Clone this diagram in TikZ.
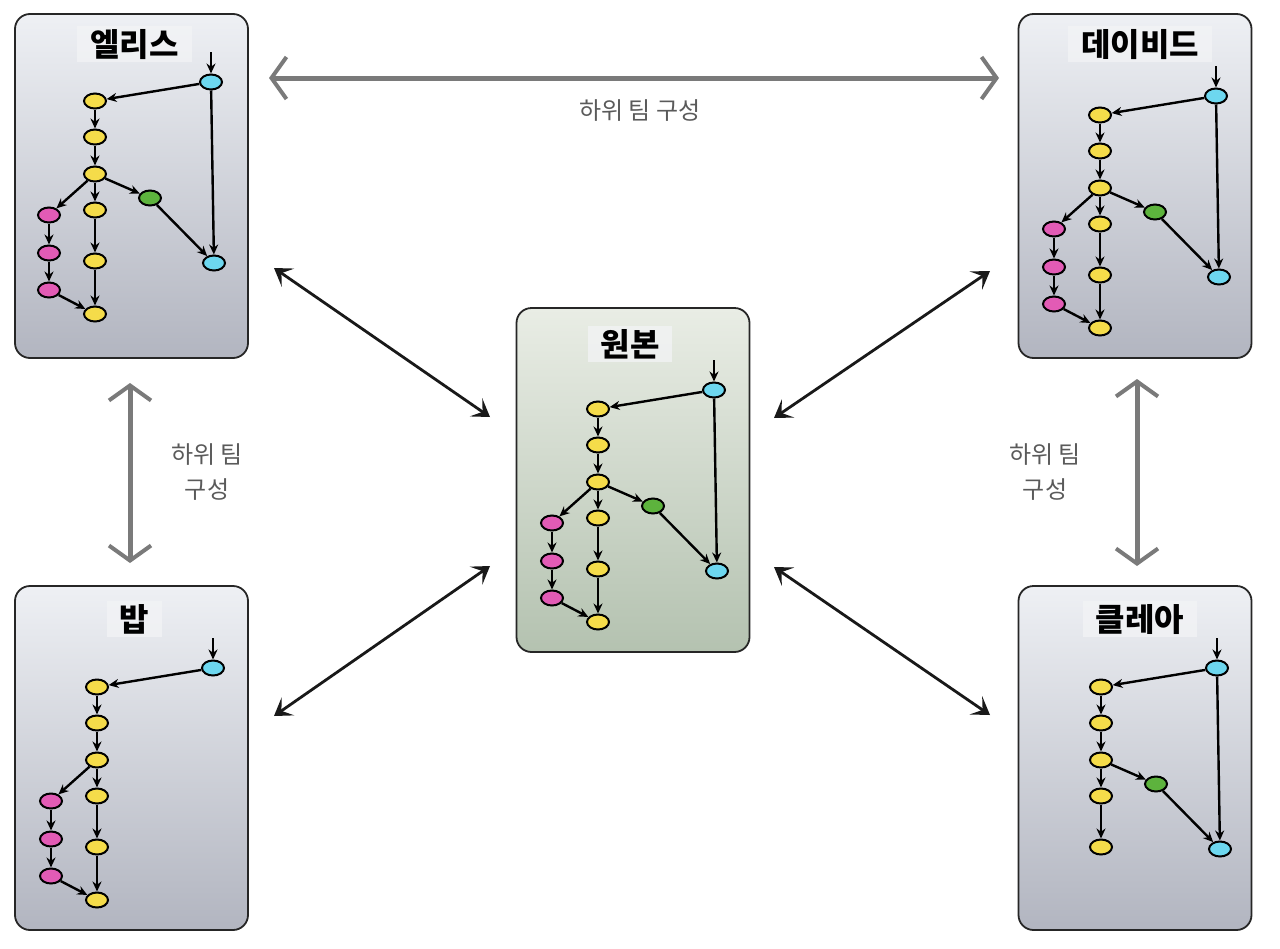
\documentclass[tikz,border=0pt]{standalone}
\usepackage{fontspec}
\setmainfont{Noto Sans CJK KR}
\usetikzlibrary{shapes.geometric, arrows.meta, positioning}

\definecolor{commityellow}{HTML}{F5DC4A}
\definecolor{commitcyan}{HTML}{6DD7EF}
\definecolor{commitpink}{HTML}{E25BB5}
\definecolor{commitgreen}{HTML}{5DB33D}
\definecolor{boxtop}{HTML}{EEF0F4}
\definecolor{boxbottom}{HTML}{B2B5C0}
\definecolor{origintop}{HTML}{E9EDE5}
\definecolor{originbottom}{HTML}{B4C2B0}
\definecolor{teamgray}{HTML}{7A7A7A}
\definecolor{labelgray}{HTML}{5A5A5A}
\definecolor{titleback}{HTML}{F3F4F6}

\tikzset{
  commit/.style={ellipse, draw=black, line width=2pt, minimum width=22pt, minimum height=15pt, inner sep=0pt},
  ycommit/.style={commit, fill=commityellow},
  ccommit/.style={commit, fill=commitcyan},
  pcommit/.style={commit, fill=commitpink},
  gcommit/.style={commit, fill=commitgreen},
  commitedge/.style={-{Stealth[length=10pt,width=9pt]}, line width=2.4pt},
  repobox/.style={rectangle, rounded corners=15pt, draw=black!85, line width=1.8pt, minimum width=233pt, minimum height=344pt, top color=boxtop, bottom color=boxbottom},
  originbox/.style={repobox, top color=origintop, bottom color=originbottom},
  repotitle/.style={fill=titleback, fill opacity=0.75, text opacity=1, font=\bfseries\fontsize{32}{34}\selectfont, inner xsep=13pt, inner ysep=3pt, minimum height=36pt},
  teamarrow/.style={{Straight Barb[length=15pt,width=42pt,line width=4pt]}-{Straight Barb[length=15pt,width=42pt,line width=4pt]}, line width=5pt, draw=teamgray},
  syncarrow/.style={{Stealth[length=17pt,width=22pt,inset=8pt]}-{Stealth[length=17pt,width=22pt,inset=8pt]}, line width=2.8pt, draw=black!90},
  teamlabel/.style={text=labelgray, font=\fontsize{24}{35}\selectfont, align=center}
}

% trunk: head commit and the main line
\newcommand{\trunk}[1]{%
  \coordinate (#1in) at (198,52);
  \node[ccommit] (#1c0) at (198,82) {};
  \node[ycommit] (#1y1) at (82,101) {};
  \node[ycommit] (#1y2) at (82,137) {};
  \node[ycommit] (#1y3) at (82,174) {};
  \node[ycommit] (#1y4) at (82,210) {};
  \node[ycommit] (#1y5) at (82,261) {};
  \draw[commitedge] (#1in) -- (#1c0);
  \draw[commitedge] (#1c0) -- (#1y1);
  \draw[commitedge] (#1y1) -- (#1y2);
  \draw[commitedge] (#1y2) -- (#1y3);
  \draw[commitedge] (#1y3) -- (#1y4);
  \draw[commitedge] (#1y4) -- (#1y5);
}
% pink branch merged back
\newcommand{\mergebranch}[1]{%
  \node[pcommit] (#1m1) at (36,215) {};
  \node[pcommit] (#1m2) at (36,253) {};
  \node[pcommit] (#1m3) at (36,290) {};
  \node[ycommit] (#1y6) at (82,314) {};
  \draw[commitedge] (#1y3) -- (#1m1);
  \draw[commitedge] (#1m1) -- (#1m2);
  \draw[commitedge] (#1m2) -- (#1m3);
  \draw[commitedge] (#1m3) -- (#1y6);
  \draw[commitedge] (#1y5) -- (#1y6);
}
% green branch up to the second head
\newcommand{\featurebranch}[1]{%
  \node[gcommit] (#1g) at (137,198) {};
  \node[ccommit] (#1c1) at (201,263) {};
  \draw[commitedge] (#1y3) -- (#1g);
  \draw[commitedge] (#1g) -- (#1c1);
  \draw[commitedge] (#1c0) -- (#1c1);
}

\begin{document}
\begin{tikzpicture}[x=1pt,y=1pt,yscale=-1,xscale=1]
\useasboundingbox (0,0) rectangle (1280,948);

%Shape: Boxes
\node[repobox] (alice) at (131.5,186) {};
\node[repobox] (david) at (1135,186) {};
\node[originbox] (origin) at (633,480) {};
\node[repobox] (bob) at (131.5,758) {};
\node[repobox] (claire) at (1135,758) {};

% Text Node
\node[repotitle, below=13pt of alice.north, xshift=3pt] (alicetitle) {엘리스};
\node[repotitle, below=13pt of david.north, xshift=5pt] (davidtitle) {데이비드};
\node[repotitle, below=19pt of origin.north, xshift=-3pt] (origintitle) {원본};
\node[repotitle, below=16pt of bob.north, xshift=3pt] (bobtitle) {밥};
\node[repotitle, below=16pt of claire.north, xshift=5pt] (clairetitle) {클레아};

% Graphs
\begin{scope}[shift={(13,0)}]
  \trunk{al} \mergebranch{al} \featurebranch{al}
\end{scope}
\begin{scope}[shift={(1018,14)}]
  \trunk{da} \mergebranch{da} \featurebranch{da}
\end{scope}
\begin{scope}[shift={(516,308)}]
  \trunk{or} \mergebranch{or} \featurebranch{or}
\end{scope}
\begin{scope}[shift={(15,586)}]
  \trunk{bo} \mergebranch{bo}
\end{scope}
\begin{scope}[shift={(1019,586)}]
  \trunk{cl} \featurebranch{cl}
\end{scope}

% Arrow ends
\coordinate (topl) at (269,78);
\coordinate (topr) at (999,78);
\coordinate (leftu) at (130,383);
\coordinate (leftd) at (130,563);
\coordinate (rightu) at (1137,379);
\coordinate (rightd) at (1137,566);
\coordinate (al1) at (274,268);
\coordinate (al2) at (490,417);
\coordinate (bo1) at (274,716);
\coordinate (bo2) at (490,566);
\coordinate (da1) at (990,271);
\coordinate (da2) at (774,418);
\coordinate (cl1) at (990,715);
\coordinate (cl2) at (774,567);

% Sub team arrows
\draw[teamarrow] (topl) -- (topr);
\draw[teamarrow] (leftu) -- (leftd);
\draw[teamarrow] (rightu) -- (rightd);
\node[teamlabel] (toplabel) at (640,111) {하위 팀 구성};
\node[teamlabel] (leftlabel) at (207,472) {하위 팀\\구성};
\node[teamlabel] (rightlabel) at (1045,472) {하위 팀\\구성};

% Sync arrows
\draw[syncarrow] (al1) -- (al2);
\draw[syncarrow] (bo1) -- (bo2);
\draw[syncarrow] (da1) -- (da2);
\draw[syncarrow] (cl1) -- (cl2);

\end{tikzpicture}
\end{document}
